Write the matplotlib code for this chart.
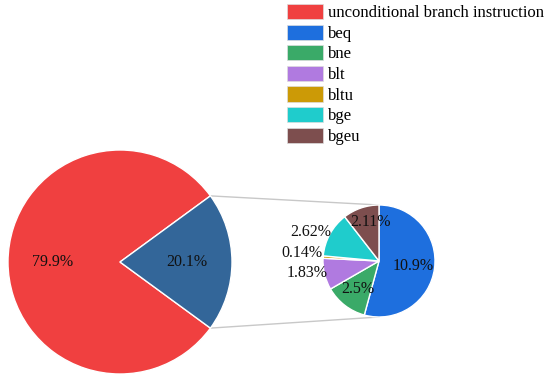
import numpy as np
import matplotlib
matplotlib.use("Agg")
import matplotlib.pyplot as plt
from matplotlib.patches import Patch

plt.rcParams['font.family'] = ['Liberation Serif', 'DejaVu Serif']

# Data
main_labels = ["unconditional branch instruction", "conditional"]
main_values = [79.9, 20.1]
main_colors = ["#F04040", "#336699"]

sub_labels = ["beq", "bne", "blt", "bltu", "bge", "bgeu"]
sub_values = [10.9, 2.5, 1.83, 0.14, 2.62, 2.11]
sub_text = ["10.9%", "2.5%", "1.83%", "0.14%", "2.62%", "2.11%"]
sub_colors = ["#1E6FDE", "#3AAA68", "#B07AE0", "#CC9A06", "#1FCCCC", "#7D4E4E"]
sub_label_dist = [0.62, 0.62, 1.3, 1.38, 1.32, 0.72]
sub_label_dang = [0, 0, -4, -2, 6, -6]

W, H = 550, 379
fig = plt.figure(figsize=(5.5, 3.79), dpi=100)
ax = fig.add_axes([0, 0, 1, 1])

lab_fs = 11.5

# Big pie
bc = (120, H - 262)
br = 112
big_ang = main_values[1] / sum(main_values) * 360 / 2
wb, tb = ax.pie(main_values, colors=main_colors, center=bc, radius=br,
                startangle=big_ang, counterclock=True, frame=True,
                wedgeprops=dict(edgecolor="white", linewidth=1))
for w, t in zip(wb, main_values):
    mid = np.deg2rad((w.theta1 + w.theta2) / 2)
    ax.text(bc[0] + 0.6 * br * np.cos(mid), bc[1] + 0.6 * br * np.sin(mid),
            f"{t}%", ha='center', va='center', fontsize=lab_fs, color='#111111')

# Small pie
sc = (379, H - 261)
sr = 56
ws, _ = ax.pie(sub_values, colors=sub_colors, center=sc, radius=sr,
               startangle=90, counterclock=False, frame=True,
               wedgeprops=dict(edgecolor="white", linewidth=1))
for w, txt, d, da in zip(ws, sub_text, sub_label_dist, sub_label_dang):
    mid = np.deg2rad((w.theta1 + w.theta2) / 2 + da)
    ax.text(sc[0] + d * sr * np.cos(mid), sc[1] + d * sr * np.sin(mid),
            txt, ha='center', va='center', fontsize=lab_fs, color='#111111')

ax.set_xlim(0, W)
ax.set_ylim(0, H)
ax.set_aspect('equal')
ax.axis('off')

# Connector lines
blue = wb[1]
for th, sy in [(blue.theta2, sc[1] + sr), (blue.theta1, sc[1] - sr)]:
    x0 = bc[0] + br * np.cos(np.deg2rad(th))
    y0 = bc[1] + br * np.sin(np.deg2rad(th))
    ax.plot([x0, sc[0]], [y0, sy], color="#C8C8C8", lw=1, zorder=0)

# Legend
leg_labels = [main_labels[0]] + sub_labels
leg_colors = [main_colors[0]] + sub_colors
handles = [Patch(facecolor=c, edgecolor='#dddddd', linewidth=0.5) for c in leg_colors]
fs = 12
fig.legend(handles, leg_labels, loc='upper left',
           bbox_to_anchor=(287 / W, 1 - 4 / H), frameon=False, fontsize=fs,
           borderpad=0, borderaxespad=0, handlelength=2.16, handleheight=1.02,
           labelspacing=0.2, handletextpad=0.3)

fig.savefig("out.png", dpi=100)
